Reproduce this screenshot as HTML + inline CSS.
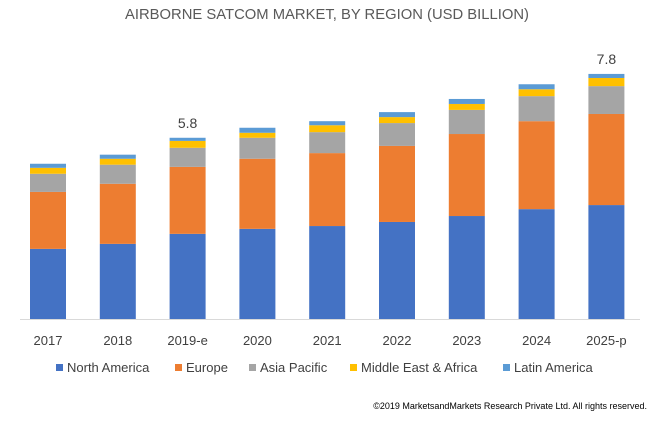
<!DOCTYPE html>
<html><head><meta charset="utf-8"><style>
body{margin:0;background:#fff;width:650px;height:420px;overflow:hidden;font-family:"Liberation Sans",sans-serif}
svg text{font-family:"Liberation Sans",sans-serif}
</style></head><body>
<svg id="chart" width="650" height="420">
<text x="327" y="19" text-anchor="middle" font-size="14.8" fill="#595959">AIRBORNE SATCOM MARKET, BY REGION (USD BILLION)</text>
<line x1="20" y1="319.5" x2="640" y2="319.5" stroke="#d9d9d9" stroke-width="1"/>
<g id="bars"></g>
<g id="labels"></g>
<g id="legend"></g>
<text x="647" y="409" text-anchor="end" font-size="9" fill="#000">©2019 MarketsandMarkets Research Private Ltd. All rights reserved.</text>
</svg>
<script>
const categories=["2017","2018","2019-e","2020","2021","2022","2023","2024","2025-p"];
const northAmerica=[2.24,2.40,2.72,2.88,2.97,3.10,3.29,3.51,3.64];
const europe=[1.82,1.92,2.14,2.24,2.33,2.43,2.62,2.81,2.91];
const asiaPacific=[0.58,0.61,0.61,0.67,0.67,0.73,0.77,0.80,0.89];
const middleEastAfrica=[0.19,0.19,0.22,0.16,0.22,0.19,0.19,0.22,0.26];
const latinAmerica=[0.13,0.13,0.10,0.16,0.13,0.16,0.16,0.16,0.13];
const totalLabels=["","","5.8","","","","","","7.8"];
const seriesNames=["North America","Europe","Asia Pacific","Middle East & Africa","Latin America"];
const series=[northAmerica,europe,asiaPacific,middleEastAfrica,latinAmerica];
const colors=["#4472c4","#ed7d31","#a5a5a5","#ffc000","#5b9bd5"];
const NS="http://www.w3.org/2000/svg";
const base=319, scale=31.3, x0=30, step=69.8, bw=36;
const xPos=i=>x0+i*step;
const yPos=v=>base-v*scale;
const bars=document.getElementById('bars');
const labels=document.getElementById('labels');
categories.forEach((c,i)=>{
  let cum=0;
  series.forEach((s,k)=>{
    const r=document.createElementNS(NS,'rect');
    r.setAttribute('x',xPos(i));
    r.setAttribute('y',yPos(cum+s[i]));
    r.setAttribute('width',bw);
    r.setAttribute('height',s[i]*scale);
    r.setAttribute('fill',colors[k]);
    
    
    bars.appendChild(r);
    cum+=s[i];
  });
  const t=document.createElementNS(NS,'text');
  t.setAttribute('x',xPos(i)+bw/2);t.setAttribute('y',345);
  t.setAttribute('text-anchor','middle');t.setAttribute('font-size','13');t.setAttribute('fill','#404040');
  t.textContent=c;
  
  
  labels.appendChild(t);
  if(totalLabels[i]){
    const v=document.createElementNS(NS,'text');
    v.setAttribute('x',xPos(i)+bw/2);v.setAttribute('y',yPos(cum)-10);
    v.setAttribute('text-anchor','middle');v.setAttribute('font-size','14');v.setAttribute('fill','#404040');
    v.textContent=totalLabels[i];
    
    
    labels.appendChild(v);
  }
});
const legX=[56,175,249,350,503];
const leg=document.getElementById('legend');
seriesNames.forEach((n,k)=>{
  const g=document.createElementNS(NS,'g');
  
  
  const r=document.createElementNS(NS,'rect');
  r.setAttribute('x',legX[k]);r.setAttribute('y',364);r.setAttribute('width',7);r.setAttribute('height',7);r.setAttribute('fill',colors[k]);
  
  
  const t=document.createElementNS(NS,'text');
  t.setAttribute('x',legX[k]+11);t.setAttribute('y',372);t.setAttribute('font-size','13');t.setAttribute('fill','#404040');
  t.textContent=n;
  
  
  g.appendChild(r);g.appendChild(t);leg.appendChild(g);
});
</script>
</body></html>
